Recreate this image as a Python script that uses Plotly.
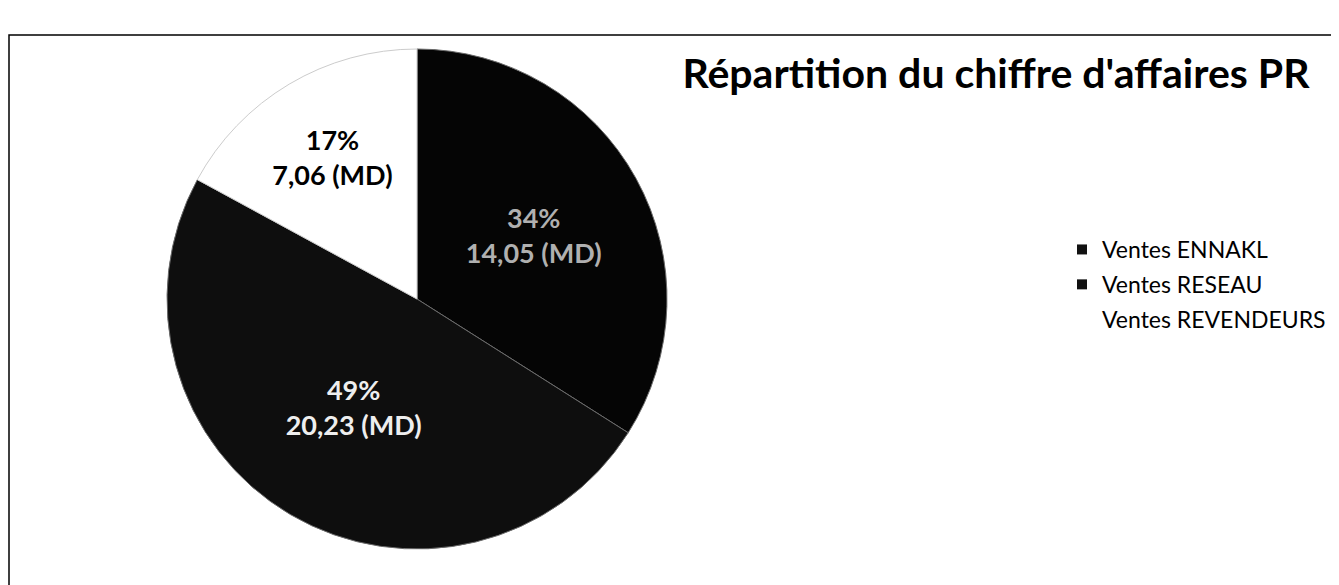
import plotly.graph_objects as go

labels = ["Ventes ENNAKL", "Ventes RESEAU", "Ventes REVENDEURS"]
values = [14.05, 20.23, 7.06]
value_text = ["14,05", "20,23", "7,06"]
colors = ["#050505", "#0e0e0e", "#ffffff"]
text_colors = ["#b0b0b0", "#eeeeee", "#000000"]
legend_colors = ["#111111", "#111111", "#ffffff"]

W, H = 1339, 585
OFF = 8  # page body margin


def px(x):
    return (x - OFF) / W


def py(y):
    return 1 - (y - OFF) / H


fig = go.Figure()

fig.add_trace(go.Pie(
    labels=labels,
    values=values,
    customdata=value_text,
    sort=False,
    direction="clockwise",
    rotation=0,
    showlegend=False,
    marker=dict(colors=colors, line=dict(color=["#6a6a6a", "#6a6a6a", "#cccccc"], width=1)),
    texttemplate="<b>%{percent:.0%}<br>%{customdata} (MD)</b>",
    textposition="inside",
    insidetextorientation="horizontal",
    textfont=dict(family="Lato, Open Sans, Arial", size=27, color=text_colors),
    domain=dict(x=[px(167), px(667)], y=[py(549), py(49)]),
    hoverinfo="label+value+percent",
))

# legend entries (one group each so the spacing can be set)
for lab, col in zip(labels, legend_colors):
    fig.add_trace(go.Scatter(
        x=[None], y=[None], mode="markers", name=lab,
        legendgroup=lab,
        marker=dict(symbol="square", size=10, color=col,
                    line=dict(color=col, width=0)),
    ))

fig.update_layout(
    width=W, height=H,
    margin=dict(l=0, r=0, t=0, b=0),
    paper_bgcolor="white",
    plot_bgcolor="white",
    xaxis=dict(visible=False),
    yaxis=dict(visible=False),
    title=dict(
        text="<b>Répartition du chiffre d'affaires PR</b>",
        x=px(996), xanchor="center",
        y=py(74), yanchor="middle",
        font=dict(family="Lato, Open Sans, Arial", size=41, color="black"),
    ),
    legend=dict(
        x=px(1062), y=py(228), xanchor="left", yanchor="top",
        font=dict(family="Lato, Open Sans, Arial", size=23, color="black"),
        itemwidth=30,
        tracegroupgap=2,
        bgcolor="rgba(0,0,0,0)",
    ),
    shapes=[dict(
        type="rect", xref="paper", yref="paper",
        x0=px(9), x1=1.01, y0=-0.01, y1=py(35),
        line=dict(color="black", width=1.5),
    )],
)

fig.write_html("out.html")
